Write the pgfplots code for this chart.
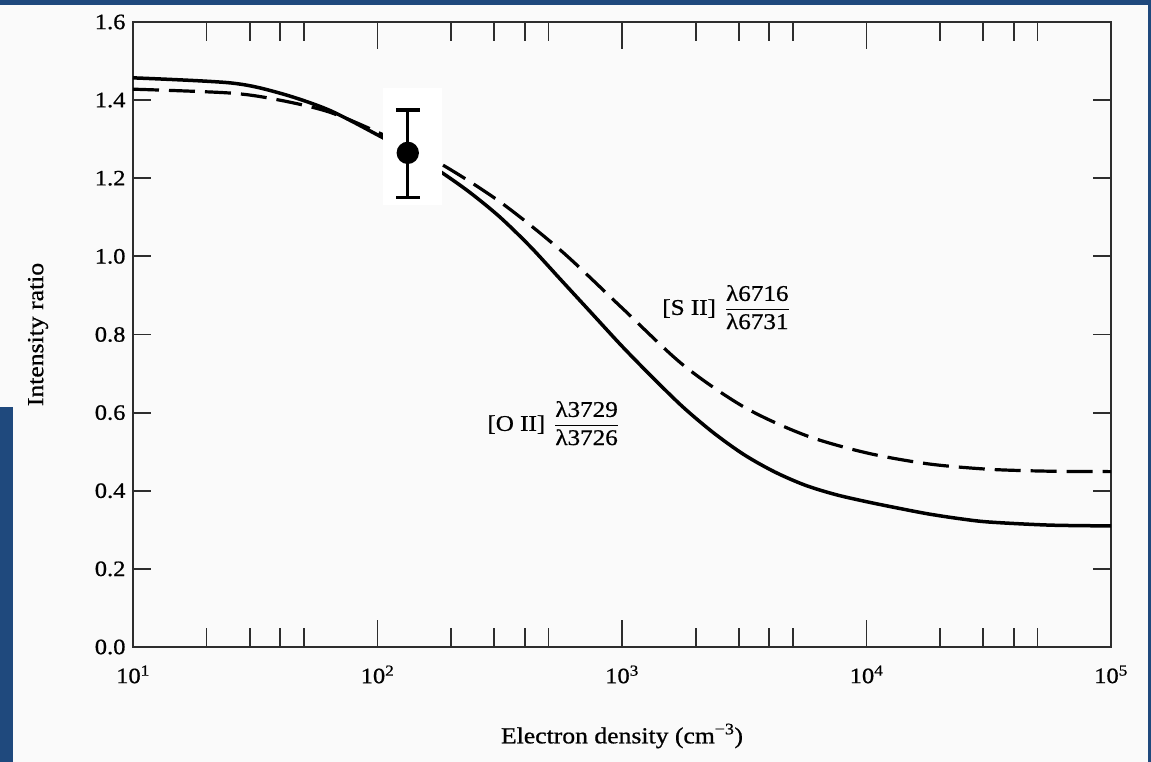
\documentclass[border=0pt]{standalone}
\usepackage{fontspec}
\setmainfont[FakeStretch=1.12, FakeBold=0.8]{Liberation Serif}
\usepackage{pgfplots}
\pgfplotsset{compat=1.18}
\definecolor{slideblue}{RGB}{31,73,125}
\definecolor{bgc}{RGB}{250,250,250}
\definecolor{axisgray}{RGB}{45,45,45}
\begin{document}
\begin{tikzpicture}
\useasboundingbox (0,0) rectangle (1151bp,762bp);
\fill[bgc] (0,0) rectangle (1151bp,762bp);
\fill[slideblue] (0,757bp) rectangle (1151bp,762bp);
\fill[slideblue] (0,0) rectangle (13bp,355bp);
\fill[slideblue] (1148bp,0) rectangle (1151bp,762bp);
\begin{axis}[
  at={(133bp,115bp)}, anchor=south west,
  scale only axis, width=978bp, height=625bp,
  xmode=log, xmin=10, xmax=100000, ymin=0, ymax=1.6,
  xtick={10,100,1000,10000,100000},
  xticklabels={10\textsuperscript{1},10\textsuperscript{2},10\textsuperscript{3},10\textsuperscript{4},10\textsuperscript{5}},
  minor xtick={20,30,40,50,200,300,400,500,2000,3000,4000,5000,20000,30000,40000,50000},
  ytick={0,0.2,0.4,0.6,0.8,1.0,1.2,1.4,1.6},
  yticklabels={0.0,0.2,0.4,0.6,0.8,1.0,1.2,1.4,1.6},
  tick align=inside, xtick pos=both, ytick pos=both,
  major tick length=18bp, minor tick length=19bp,
  extra x ticks={100,1000,10000}, extra x tick labels={},
  extra x tick style={major tick length=27bp},
  axis line style={axisgray, line width=1.8bp},
  tick style={axisgray, line width=1.8bp},
  tick label style={font=\fontsize{22}{25}\selectfont, text=black},
  xticklabel style={yshift=-15bp},
  yticklabel style={xshift=-4bp},
  xlabel={Electron density (cm\textsuperscript{−3})},
  ylabel={Intensity ratio},
  label style={font=\fontsize{23}{27}\selectfont},
  xlabel style={at={(axis description cs:0.5,-0.1424)}, anchor=center},
  ylabel style={at={(axis description cs:-0.0971,0.5)}, anchor=center},
  clip=false,
]
% [O II] 3729/3726 (solid)
\addplot[black, line width=3.5bp, smooth] coordinates {
 (10,1.457) (25.1,1.444) (39.8,1.418) (63.1,1.375) (100,1.311)
 (133.4,1.268) (177.8,1.220) (237.1,1.165) (316.2,1.101) (421.7,1.025)
 (562.3,0.940) (749.9,0.855) (1000,0.770) (1334,0.690)
 (1778,0.614) (2371,0.548) (3162,0.492) (4217,0.448) (5623,0.414)
 (7499,0.390) (10000,0.372) (13335,0.356) (17783,0.341) (23714,0.329)
 (31623,0.320) (56234,0.312) (100000,0.310)
};
% [S II] 6716/6731 (dashed)
\addplot[black, line width=3.2bp, dash pattern=on 26bp off 10bp, smooth] coordinates {
 (10,1.428) (25.1,1.418) (39.8,1.400) (63.1,1.370) (100,1.318)
 (177.8,1.240) (316.2,1.140) (562.3,1.015) (1000,0.868) (1778,0.722)
 (3162,0.614) (5623,0.542) (10000,0.497) (17783,0.469)
 (31623,0.455) (56234,0.450) (100000,0.449)
};
\fill[white] (axis cs:105.3,1.1316) rectangle (axis cs:183.6,1.431);
\addplot[black, line width=3.3bp, mark=*, mark size=9.5bp,
  error bars/.cd, y dir=both, y explicit, error mark=|,
  error bar style={line width=3.3bp},
  error mark options={line width=3.3bp, mark size=12bp}]
  coordinates {(133,1.265) += (0,0.11) -= (0,0.115)};
\node[anchor=west, font=\fontsize{22.5}{26}\selectfont, inner sep=0pt] at (axis cs:1459,0.870)
  {[S II]\hspace{0.4em}$\displaystyle\frac{\mbox{λ6716}}{\mbox{λ6731}}$};
\node[anchor=west, font=\fontsize{22.5}{26}\selectfont, inner sep=0pt] at (axis cs:281,0.573)
  {[O II]\hspace{0.4em}$\displaystyle\frac{\mbox{λ3729}}{\mbox{λ3726}}$};
\end{axis}
\end{tikzpicture}
\end{document}
